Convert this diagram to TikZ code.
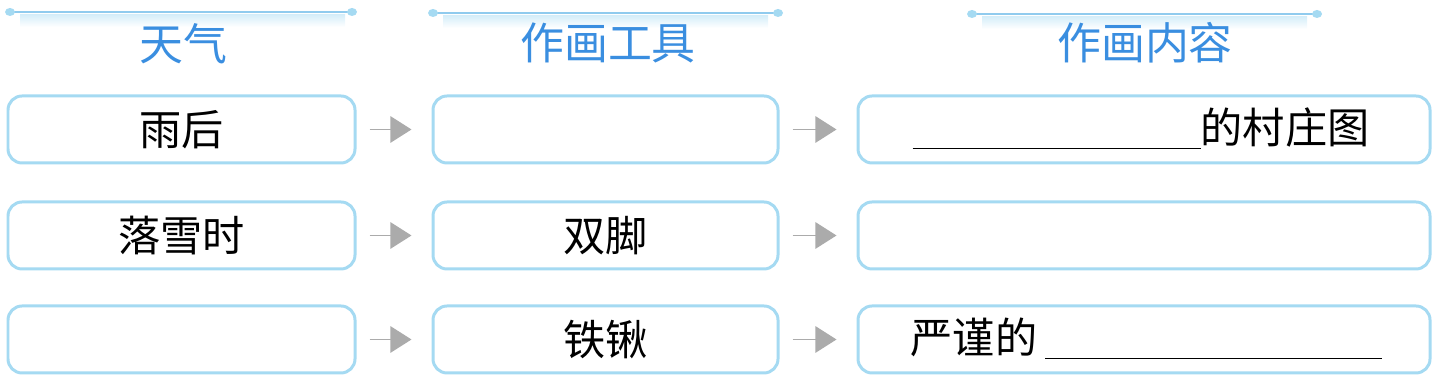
\documentclass[tikz,border=0pt]{standalone}
\usepackage{fontspec}
\setmainfont{Noto Sans CJK SC}
\usetikzlibrary{arrows.meta,positioning}
\definecolor{rimblue}{RGB}{165,218,242}
\definecolor{headblue}{RGB}{58,142,224}

\begin{document}
\begin{tikzpicture}[
  font=\fontsize{12}{14}\selectfont,
  cell/.style={draw=rimblue,line width=.85pt,rounded corners=4pt,fill=white,minimum height=.67cm,inner sep=0pt},
  head/.style={font=\fontsize{12.5}{14}\selectfont,text=headblue},
  headrule/.style={draw=rimblue!80!headblue,line width=.8pt},
  rulecap/.style={fill=rimblue,draw=none},
  band/.style={top color=rimblue!45,bottom color=white,draw=none},
  flow/.style={-{Triangle[length=6pt,width=7.5pt]},black!33,line width=.5pt,shorten <=.13cm,shorten >=.2cm}
]
\useasboundingbox (0,0) rectangle (14.5,3.85);

% column headings with their ruled bands
\fill[band] (0.20,3.70) rectangle (3.45,3.58);
\draw[headrule] (0.10,3.73) -- (3.52,3.73);
\fill[rulecap] (0.10,3.73) ellipse (.05 and .04) (3.52,3.73) ellipse (.05 and .04);
\node[head] (hw) at (1.83,3.41) {天气};

\fill[band] (4.43,3.69) rectangle (7.68,3.57);
\draw[headrule] (4.33,3.72) -- (7.78,3.72);
\fill[rulecap] (4.33,3.72) ellipse (.05 and .04) (7.78,3.72) ellipse (.05 and .04);
\node[head] (ht) at (6.08,3.42) {作画工具};

\fill[band] (9.82,3.68) rectangle (13.07,3.56);
\draw[headrule] (9.72,3.71) -- (13.17,3.71);
\fill[rulecap] (9.72,3.71) ellipse (.05 and .04) (13.17,3.71) ellipse (.05 and .04);
\node[head] (hc) at (11.45,3.42) {作画内容};

% weather column
\node[cell,minimum width=3.47cm] (w1) at (1.815,2.555) {雨后};
\node[cell,minimum width=3.47cm] (w2) at (1.815,1.495) {落雪时};
\node[cell,minimum width=3.47cm] (w3) at (1.815,0.455) {};

% tool column
\node[cell,minimum width=3.45cm] (t1) at (6.055,2.555) {};
\node[cell,minimum width=3.45cm] (t2) at (6.055,1.495) {双脚};
\node[cell,minimum width=3.45cm] (t3) at (6.055,0.455) {铁锹};

% content column
\node[cell,minimum width=5.72cm] (c1) at (11.44,2.555) {};
\node[cell,minimum width=5.72cm] (c2) at (11.44,1.495) {};
\node[cell,minimum width=5.72cm] (c3) at (11.44,0.455) {};
\node[anchor=west,inner sep=0pt] (c1txt) at (9.12,2.555) {\underline{\hspace{2.88cm}}的村庄图};
\node[anchor=west,inner sep=0pt] (c3txt) at (9.10,0.455) {严谨的\hspace{.08cm}\underline{\hspace{3.37cm}}};

\draw[flow] (w1) -- (t1);
\draw[flow] (w2) -- (t2);
\draw[flow] (w3) -- (t3);
\draw[flow] (t1) -- (c1);
\draw[flow] (t2) -- (c2);
\draw[flow] (t3) -- (c3);
\end{tikzpicture}
\end{document}
